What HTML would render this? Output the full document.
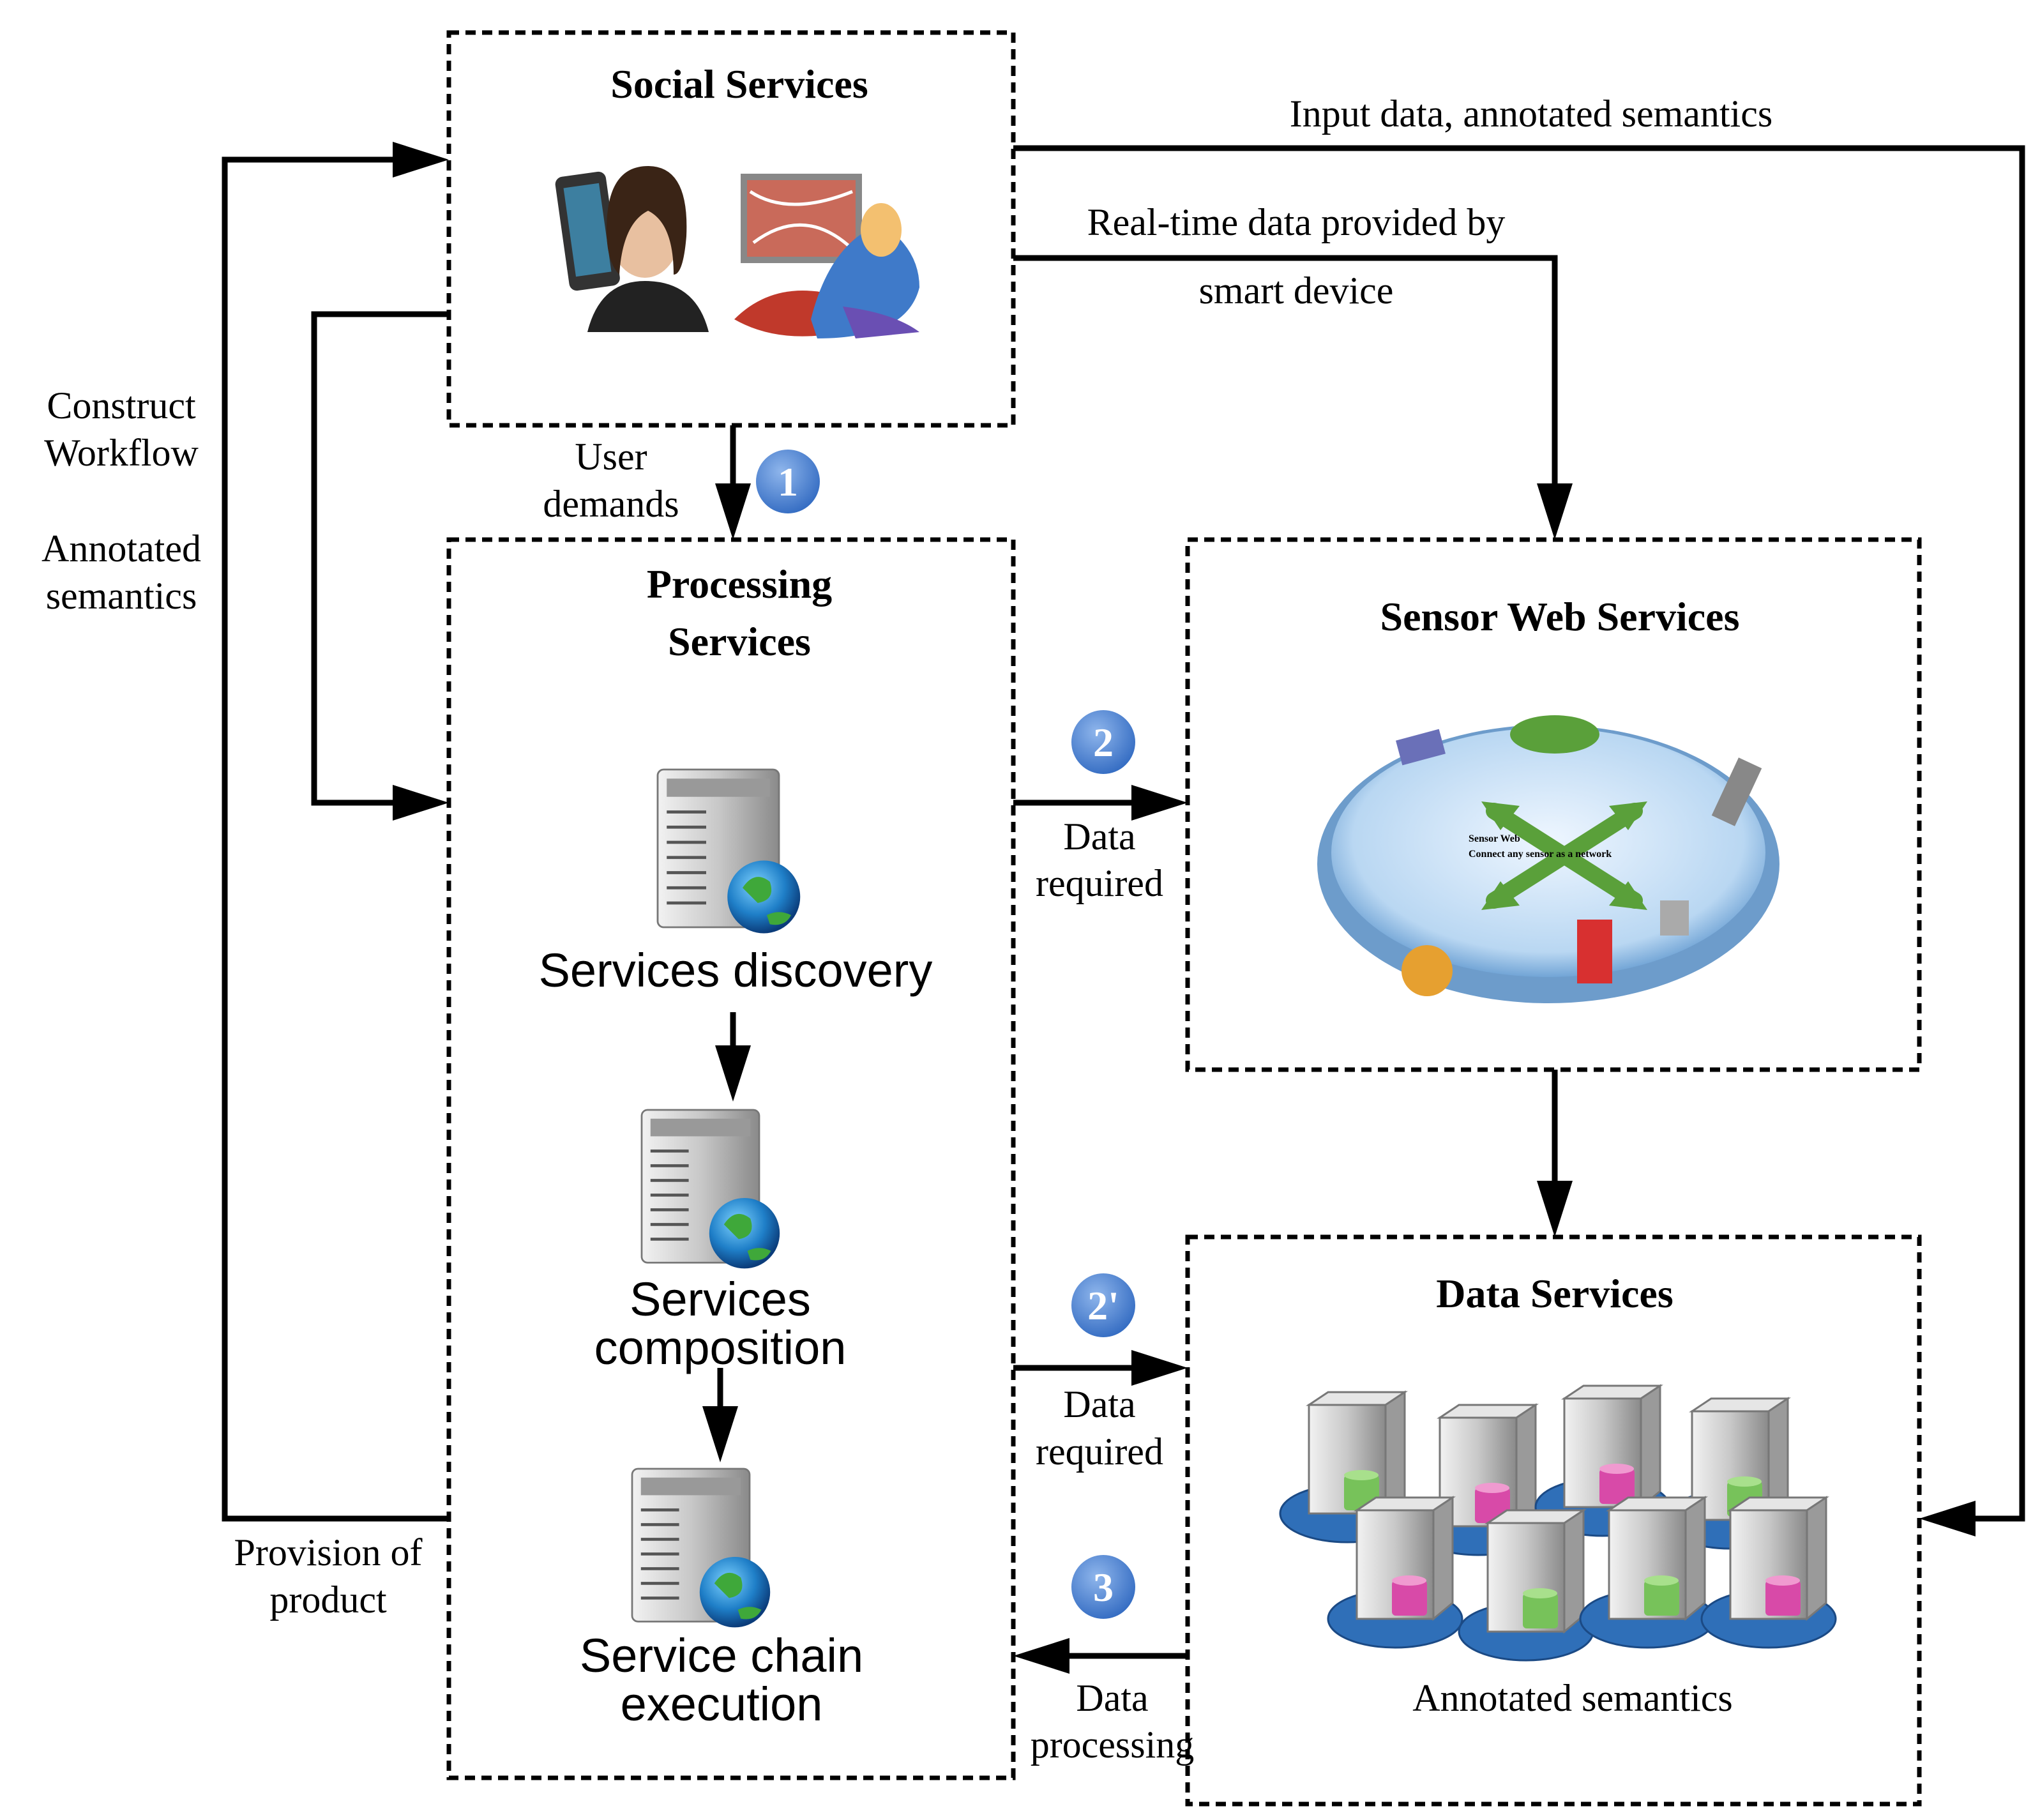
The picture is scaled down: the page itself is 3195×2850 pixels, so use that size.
<!DOCTYPE html>
<html><head><meta charset="utf-8"><style>
html,body{margin:0;padding:0;background:#fff}
svg{display:block}
.s{font-family:"Liberation Serif",serif;font-size:60px;fill:#000;text-anchor:middle}
.b{font-weight:bold;font-size:64px}
.a{font-family:"Liberation Sans",sans-serif;font-size:74px;fill:#000;text-anchor:middle}
.box{fill:none;stroke:#000;stroke-width:7;stroke-dasharray:16 10}
.ln{fill:none;stroke:#000;stroke-width:9}
.cn{font-family:"Liberation Serif",serif;font-size:64px;font-weight:bold;fill:#fff;text-anchor:middle}
</style></head><body>
<svg width="3195" height="2850" viewBox="0 0 3195 2850" xmlns="http://www.w3.org/2000/svg">
<defs>
<radialGradient id="bc" cx="40%" cy="35%" r="70%"><stop offset="0" stop-color="#8fb6ec"/><stop offset="1" stop-color="#2f68c0"/></radialGradient>
<linearGradient id="sv" x1="0" x2="1"><stop offset="0" stop-color="#f2f2f2"/><stop offset="0.5" stop-color="#c8c8c8"/><stop offset="1" stop-color="#8a8a8a"/></linearGradient>
<radialGradient id="gl" cx="40%" cy="35%" r="65%"><stop offset="0" stop-color="#7fd3ff"/><stop offset="0.6" stop-color="#1f7fc8"/><stop offset="1" stop-color="#0b3c7a"/></radialGradient>
<radialGradient id="el" cx="50%" cy="45%" r="60%"><stop offset="0" stop-color="#eef6ff"/><stop offset="0.75" stop-color="#b9d7f2"/><stop offset="1" stop-color="#4f8cc8"/></radialGradient>
<g id="srv">
<rect x="0" y="0" width="200" height="260" rx="10" fill="url(#sv)" stroke="#777" stroke-width="3"/>
<g stroke="#555" stroke-width="5"><line x1="15" y1="70" x2="80" y2="70"/><line x1="15" y1="95" x2="80" y2="95"/><line x1="15" y1="120" x2="80" y2="120"/><line x1="15" y1="145" x2="80" y2="145"/><line x1="15" y1="170" x2="80" y2="170"/><line x1="15" y1="195" x2="80" y2="195"/><line x1="15" y1="220" x2="80" y2="220"/></g>
<rect x="15" y="15" width="170" height="30" fill="#999"/>
<circle cx="175" cy="210" r="60" fill="url(#gl)"/>
<path d="M140 195 q20-30 45-10 q10 30-20 35z M180 240 q20-10 40 0 q-10 20-35 15z" fill="#3fa83a"/>
</g>
<g id="db">
<ellipse cx="100" cy="190" rx="105" ry="45" fill="#2f6fb8" stroke="#1b4a85" stroke-width="3"/>
<rect x="40" y="20" width="120" height="170" fill="url(#sv)" stroke="#777" stroke-width="3"/>
<polygon points="40,20 70,0 190,0 160,20" fill="#e6e6e6" stroke="#777" stroke-width="3"/>
<polygon points="160,20 190,0 190,165 160,190" fill="#9a9a9a" stroke="#777" stroke-width="3"/>
<rect x="95" y="130" width="55" height="55" rx="6" fill="#77c25a"/>
<ellipse cx="122" cy="130" rx="27" ry="8" fill="#a8e08c"/>
</g>
<g id="dbp">
<ellipse cx="100" cy="190" rx="105" ry="45" fill="#2f6fb8" stroke="#1b4a85" stroke-width="3"/>
<rect x="40" y="20" width="120" height="170" fill="url(#sv)" stroke="#777" stroke-width="3"/>
<polygon points="40,20 70,0 190,0 160,20" fill="#e6e6e6" stroke="#777" stroke-width="3"/>
<polygon points="160,20 190,0 190,165 160,190" fill="#9a9a9a" stroke="#777" stroke-width="3"/>
<rect x="95" y="130" width="55" height="55" rx="6" fill="#d84aa8"/>
<ellipse cx="122" cy="130" rx="27" ry="8" fill="#f09ad0"/>
</g>
</defs>

<!-- boxes -->
<rect class="box" x="703" y="51" width="884" height="615"/>
<rect class="box" x="703" y="845" width="884" height="1939"/>
<rect class="box" x="1860" y="845" width="1146" height="830"/>
<rect class="box" x="1860" y="1937" width="1146" height="888"/>

<!-- connectors -->
<polyline class="ln" points="703,2378 352,2378 352,250 620,250"/>
<polygon points="703,250 615,222 615,278"/>
<polyline class="ln" points="703,492 492,492 492,1257 620,1257"/>
<polygon points="703,1257 615,1229 615,1285"/>
<polyline class="ln" points="1587,232 3167,232 3167,2378 3090,2378"/>
<polygon points="3006,2378 3094,2350 3094,2406"/>
<polyline class="ln" points="1587,404 2435,404 2435,765"/>
<polygon points="2435,845 2407,757 2463,757"/>
<line class="ln" x1="1148" y1="666" x2="1148" y2="765"/>
<polygon points="1148,845 1120,757 1176,757"/>
<line class="ln" x1="1587" y1="1257" x2="1780" y2="1257"/>
<polygon points="1860,1257 1772,1229 1772,1285"/>
<line class="ln" x1="1587" y1="2142" x2="1780" y2="2142"/>
<polygon points="1860,2142 1772,2114 1772,2170"/>
<line class="ln" x1="1860" y1="2593" x2="1667" y2="2593"/>
<polygon points="1587,2593 1675,2565 1675,2621"/>
<line class="ln" x1="2435" y1="1675" x2="2435" y2="1857"/>
<polygon points="2435,1937 2407,1849 2463,1849"/>
<line class="ln" x1="1148" y1="1585" x2="1148" y2="1645"/>
<polygon points="1148,1725 1120,1637 1176,1637"/>
<line class="ln" x1="1128" y1="2142" x2="1128" y2="2210"/>
<polygon points="1128,2290 1100,2202 1156,2202"/>

<!-- number circles -->
<circle cx="1234" cy="754" r="52" fill="url(#bc)" stroke="#fff" stroke-width="4"/><text class="cn" x="1234" y="776">1</text>
<circle cx="1728" cy="1162" r="52" fill="url(#bc)" stroke="#fff" stroke-width="4"/><text class="cn" x="1728" y="1184">2</text>
<circle cx="1728" cy="2044" r="52" fill="url(#bc)" stroke="#fff" stroke-width="4"/><text class="cn" x="1728" y="2066">2'</text>
<circle cx="1728" cy="2485" r="52" fill="url(#bc)" stroke="#fff" stroke-width="4"/><text class="cn" x="1728" y="2507">3</text>

<!-- social images -->
<rect x="880" y="272" width="80" height="180" rx="12" fill="#333" transform="rotate(-8 920 360)"/>
<rect x="892" y="290" width="56" height="140" fill="#3d7fa0" transform="rotate(-8 920 360)"/>
<ellipse cx="1010" cy="365" rx="55" ry="70" fill="#e8c0a0"/>
<path d="M950 360 q0-100 65-100 q65 0 60 110 q-5 60-20 60 q0-80-40-100 q-40 20-45 100 q-20-20-20-70z" fill="#3a2416"/>
<path d="M920 520 q20-80 90-80 q80 0 100 80z" fill="#222"/>
<rect x="1160" y="272" width="190" height="140" fill="#888"/>
<rect x="1170" y="282" width="170" height="120" fill="#c96a5a"/>
<path d="M1175 300 q60 40 160 0 M1180 380 q80-60 155 10" stroke="#fff" stroke-width="5" fill="none"/>
<path d="M1150 500 q60-60 150-40 l20 60 q-100 20-170-20z" fill="#c0392b"/>
<path d="M1270 500 q30-120 110-150 q60 40 60 100 q-20 80-160 80z" fill="#3f7ac9"/>
<ellipse cx="1380" cy="360" rx="32" ry="42" fill="#f3c070"/>
<path d="M1320 480 q80 10 120 40 l-100 10z" fill="#6a4fb3"/>

<!-- servers -->
<use href="#srv" x="1030" y="1205" transform="translate(1030 1205) scale(0.95) translate(-1030 -1205)"/>
<use href="#srv" x="1005" y="1738" transform="translate(1005 1738) scale(0.92) translate(-1005 -1738)"/>
<use href="#srv" x="990" y="2300" transform="translate(990 2300) scale(0.92) translate(-990 -2300)"/>

<!-- sensor web -->
<ellipse cx="2425" cy="1353" rx="362" ry="218" fill="#6d9ccb"/>
<ellipse cx="2425" cy="1335" rx="340" ry="195" fill="url(#el)"/>
<g stroke="#5aa03a" stroke-width="26" fill="none" stroke-linecap="round">
<line x1="2340" y1="1270" x2="2560" y2="1410"/><line x1="2560" y1="1270" x2="2340" y2="1410"/></g>
<polygon points="2320,1255 2380,1262 2350,1300" fill="#5aa03a"/>
<polygon points="2580,1255 2520,1262 2550,1300" fill="#5aa03a"/>
<polygon points="2320,1425 2380,1418 2350,1380" fill="#5aa03a"/>
<polygon points="2580,1425 2520,1418 2550,1380" fill="#5aa03a"/>
<text x="2300" y="1318" font-family="Liberation Serif,serif" font-size="16" font-weight="bold">Sensor Web</text>
<text x="2300" y="1342" font-family="Liberation Serif,serif" font-size="16" font-weight="bold">Connect any sensor as a network</text>
<rect x="2470" y="1440" width="55" height="100" fill="#d83030"/>
<circle cx="2235" cy="1520" r="40" fill="#e6a030"/>
<ellipse cx="2435" cy="1150" rx="70" ry="30" fill="#5aa03a"/>
<rect x="2700" y="1190" width="40" height="100" fill="#888" transform="rotate(25 2720 1240)"/>
<rect x="2600" y="1410" width="45" height="55" fill="#aaa"/>
<rect x="2190" y="1150" width="70" height="40" fill="#6a70b8" transform="rotate(-15 2225 1170)"/>

<!-- data servers -->
<use href="#db" x="2010" y="2180"/>
<use href="#dbp" x="2215" y="2200"/>
<use href="#dbp" x="2410" y="2170"/>
<use href="#db" x="2610" y="2190"/>
<use href="#dbp" x="2085" y="2345"/>
<use href="#db" x="2290" y="2365"/>
<use href="#db" x="2480" y="2345"/>
<use href="#dbp" x="2670" y="2345"/>

<!-- texts -->
<text class="s b" x="1158" y="153">Social Services</text>
<text class="s" x="2398" y="198">Input data, annotated semantics</text>
<text class="s" x="2030" y="368">Real-time data provided by</text>
<text class="s" x="2030" y="475">smart device</text>
<text class="s" x="190" y="655">Construct</text>
<text class="s" x="190" y="729">Workflow</text>
<text class="s" x="190" y="879">Annotated</text>
<text class="s" x="190" y="953">semantics</text>
<text class="s" x="957" y="735">User</text>
<text class="s" x="957" y="809">demands</text>
<text class="s b" x="1158" y="936">Processing</text>
<text class="s b" x="1158" y="1026">Services</text>
<text class="s b" x="2443" y="987">Sensor Web Services</text>
<text class="s" x="1722" y="1330">Data</text>
<text class="s" x="1722" y="1403">required</text>
<text class="a" x="1152" y="1545">Services discovery</text>
<text class="a" x="1128" y="2060">Services</text>
<text class="a" x="1128" y="2136">composition</text>
<text class="a" x="1130" y="2618">Service chain</text>
<text class="a" x="1130" y="2694">execution</text>
<text class="s" x="1722" y="2219">Data</text>
<text class="s" x="1722" y="2293">required</text>
<text class="s" x="514" y="2451">Provision of</text>
<text class="s" x="514" y="2525">product</text>
<text class="s b" x="2435" y="2047">Data Services</text>
<text class="s" x="2463" y="2679">Annotated semantics</text>
<text class="s" x="1742" y="2679">Data</text>
<text class="s" x="1742" y="2752">processing</text>
</svg>
</body></html>
